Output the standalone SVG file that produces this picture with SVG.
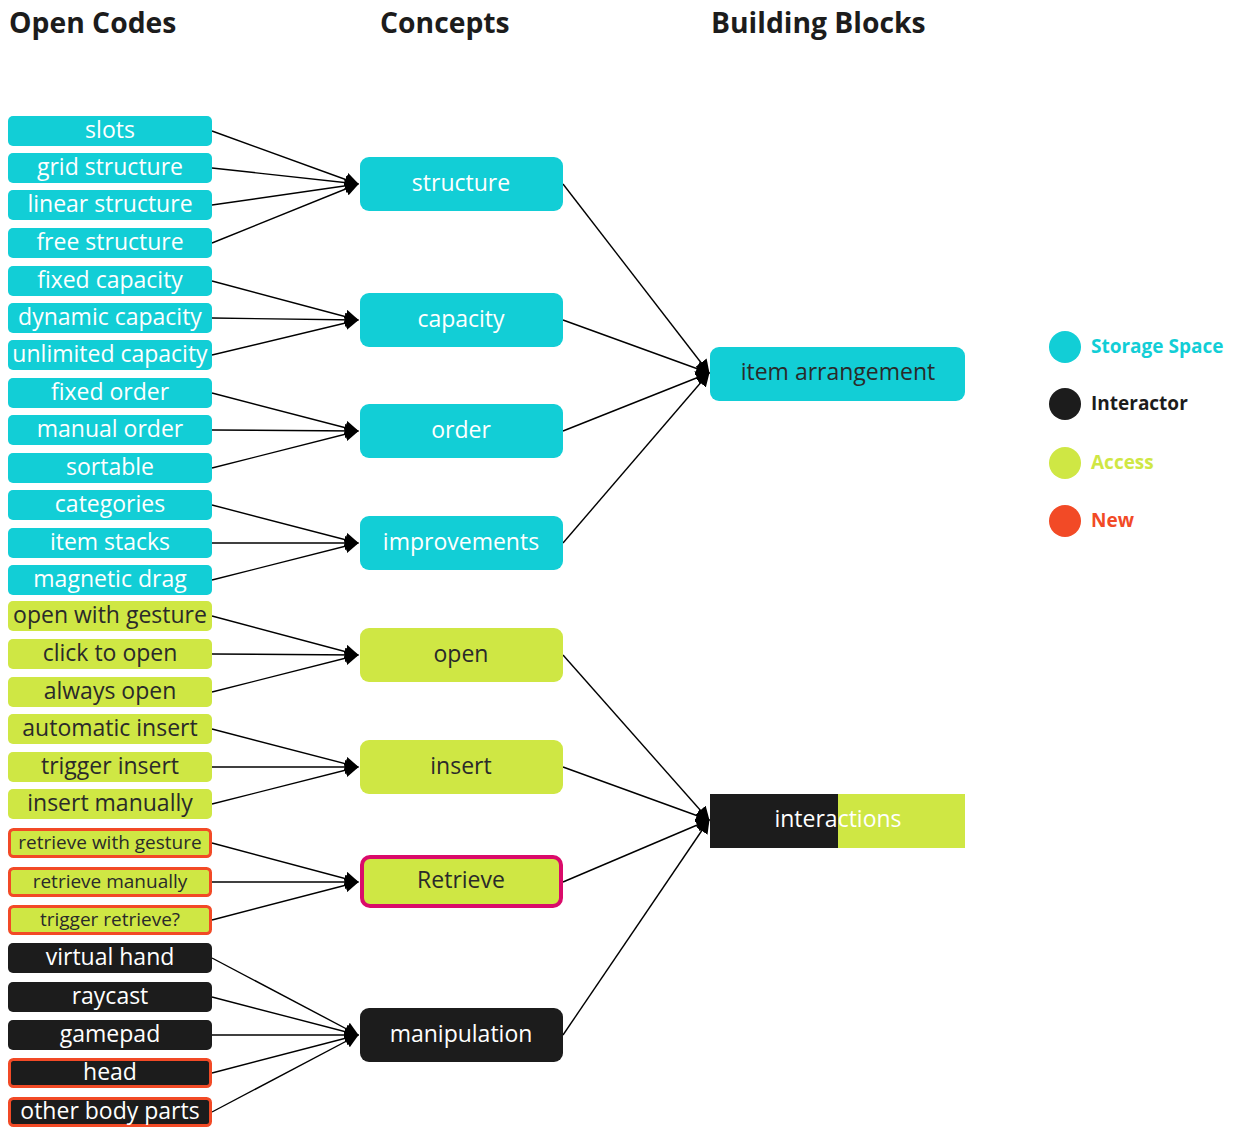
<svg xmlns="http://www.w3.org/2000/svg" width="1234" height="1127" viewBox="0 0 1234 1127">
<defs>
<marker id="ah" markerUnits="userSpaceOnUse" markerWidth="14" markerHeight="14" refX="13" refY="7" orient="auto"><path d="M0,0 L14,7 L0,14 z" fill="#000"/></marker>
<style>
.h{font-family:"Open Sans","Liberation Sans",sans-serif;font-weight:700;font-size:28.3px;fill:#1c1c1c}
.t{font-family:"Open Sans","Liberation Sans",sans-serif;font-size:23px;text-anchor:middle;dominant-baseline:central}
.s{font-size:19px}
.w{fill:#fff}
.d{fill:#2a2a2a}
.cy{fill:#12ced6}
.gr{fill:#cfe744}
.bk{fill:#1c1c1c}
.new{stroke:#f24a26;stroke-width:3}
.c line{stroke:#000;stroke-width:1.4;marker-end:url(#ah)}
.lg{font-family:"Open Sans","Liberation Sans",sans-serif;font-weight:700;font-size:19px;dominant-baseline:central}
</style>
</defs>
<rect width="1234" height="1127" fill="#fff"/>
<text class="h" x="9" y="33">Open Codes</text>
<text class="h" x="380" y="33">Concepts</text>
<text class="h" x="711" y="33">Building Blocks</text>

<g class="c">
<line x1="212" y1="131" x2="358" y2="184"/>
<line x1="212" y1="168" x2="358" y2="184"/>
<line x1="212" y1="205" x2="358" y2="184"/>
<line x1="212" y1="243" x2="358" y2="184"/>
<line x1="212" y1="281" x2="358" y2="320"/>
<line x1="212" y1="318" x2="358" y2="320"/>
<line x1="212" y1="355" x2="358" y2="320"/>
<line x1="212" y1="393" x2="358" y2="431"/>
<line x1="212" y1="430" x2="358" y2="431"/>
<line x1="212" y1="468" x2="358" y2="431"/>
<line x1="212" y1="505" x2="358" y2="543"/>
<line x1="212" y1="543" x2="358" y2="543"/>
<line x1="212" y1="580" x2="358" y2="543"/>
<line x1="212" y1="616" x2="358" y2="655"/>
<line x1="212" y1="654" x2="358" y2="655"/>
<line x1="212" y1="692" x2="358" y2="655"/>
<line x1="212" y1="729" x2="358" y2="767"/>
<line x1="212" y1="767" x2="358" y2="767"/>
<line x1="212" y1="804" x2="358" y2="767"/>
<line x1="212" y1="843" x2="358" y2="882"/>
<line x1="212" y1="882" x2="358" y2="882"/>
<line x1="212" y1="920" x2="358" y2="882"/>
<line x1="212" y1="958" x2="358" y2="1035"/>
<line x1="212" y1="997" x2="358" y2="1035"/>
<line x1="212" y1="1035" x2="358" y2="1035"/>
<line x1="212" y1="1073" x2="358" y2="1035"/>
<line x1="212" y1="1112" x2="358" y2="1035"/>
<line x1="563" y1="184" x2="709" y2="373"/>
<line x1="563" y1="320" x2="709" y2="373"/>
<line x1="563" y1="431" x2="709" y2="373"/>
<line x1="563" y1="543" x2="709" y2="373"/>
<line x1="563" y1="655" x2="709" y2="820"/>
<line x1="563" y1="767" x2="709" y2="820"/>
<line x1="563" y1="882" x2="709" y2="820"/>
<line x1="563" y1="1035" x2="709" y2="820"/>
</g>

<g id="slots"><rect class="cy" x="8" y="116" width="204" height="30" rx="5"/><text class="t w" x="110" y="129">slots</text></g>
<g id="grid-structure"><rect class="cy" x="8" y="153" width="204" height="30" rx="5"/><text class="t w" x="110" y="166">grid structure</text></g>
<g id="linear-structure"><rect class="cy" x="8" y="190" width="204" height="30" rx="5"/><text class="t w" x="110" y="203">linear structure</text></g>
<g id="free-structure"><rect class="cy" x="8" y="228" width="204" height="30" rx="5"/><text class="t w" x="110" y="241">free structure</text></g>
<g id="fixed-capacity"><rect class="cy" x="8" y="266" width="204" height="30" rx="5"/><text class="t w" x="110" y="279">fixed capacity</text></g>
<g id="dynamic-capacity"><rect class="cy" x="8" y="303" width="204" height="30" rx="5"/><text class="t w" x="110" y="316">dynamic capacity</text></g>
<g id="unlimited-capacity"><rect class="cy" x="8" y="340" width="204" height="30" rx="5"/><text class="t w" x="110" y="353">unlimited capacity</text></g>
<g id="fixed-order"><rect class="cy" x="8" y="378" width="204" height="30" rx="5"/><text class="t w" x="110" y="391">fixed order</text></g>
<g id="manual-order"><rect class="cy" x="8" y="415" width="204" height="30" rx="5"/><text class="t w" x="110" y="428">manual order</text></g>
<g id="sortable"><rect class="cy" x="8" y="453" width="204" height="30" rx="5"/><text class="t w" x="110" y="466">sortable</text></g>
<g id="categories"><rect class="cy" x="8" y="490" width="204" height="30" rx="5"/><text class="t w" x="110" y="503">categories</text></g>
<g id="item-stacks"><rect class="cy" x="8" y="528" width="204" height="30" rx="5"/><text class="t w" x="110" y="541">item stacks</text></g>
<g id="magnetic-drag"><rect class="cy" x="8" y="565" width="204" height="30" rx="5"/><text class="t w" x="110" y="578">magnetic drag</text></g>
<g id="open-with-gesture"><rect class="gr" x="8" y="601" width="204" height="30" rx="5"/><text class="t d" x="110" y="614">open with gesture</text></g>
<g id="click-to-open"><rect class="gr" x="8" y="639" width="204" height="30" rx="5"/><text class="t d" x="110" y="652">click to open</text></g>
<g id="always-open"><rect class="gr" x="8" y="677" width="204" height="30" rx="5"/><text class="t d" x="110" y="690">always open</text></g>
<g id="automatic-insert"><rect class="gr" x="8" y="714" width="204" height="30" rx="5"/><text class="t d" x="110" y="727">automatic insert</text></g>
<g id="trigger-insert"><rect class="gr" x="8" y="752" width="204" height="30" rx="5"/><text class="t d" x="110" y="765">trigger insert</text></g>
<g id="insert-manually"><rect class="gr" x="8" y="789" width="204" height="30" rx="5"/><text class="t d" x="110" y="802">insert manually</text></g>
<g id="retrieve-with-gesture"><rect class="gr new" x="9.5" y="829.5" width="201" height="27" rx="4"/><text class="t d s" x="110" y="841.5">retrieve with gesture</text></g>
<g id="retrieve-manually"><rect class="gr new" x="9.5" y="868.5" width="201" height="27" rx="4"/><text class="t d s" x="110" y="880.5">retrieve manually</text></g>
<g id="trigger-retrieve"><rect class="gr new" x="9.5" y="906.5" width="201" height="27" rx="4"/><text class="t d s" x="110" y="918.5">trigger retrieve?</text></g>
<g id="virtual-hand"><rect class="bk" x="8" y="943" width="204" height="30" rx="5"/><text class="t w" x="110" y="956">virtual hand</text></g>
<g id="raycast"><rect class="bk" x="8" y="982" width="204" height="30" rx="5"/><text class="t w" x="110" y="995">raycast</text></g>
<g id="gamepad"><rect class="bk" x="8" y="1020" width="204" height="30" rx="5"/><text class="t w" x="110" y="1033">gamepad</text></g>
<g id="head"><rect class="bk new" x="9.5" y="1059.5" width="201" height="27" rx="4"/><text class="t w" x="110" y="1071">head</text></g>
<g id="other-body-parts"><rect class="bk new" x="9.5" y="1098.5" width="201" height="27" rx="4"/><text class="t w" x="110" y="1110">other body parts</text></g>

<g id="structure"><rect class="cy" x="360" y="157" width="203" height="54" rx="9"/><text class="t w" x="461" y="182">structure</text></g>
<g id="capacity"><rect class="cy" x="360" y="293" width="203" height="54" rx="9"/><text class="t w" x="461" y="318">capacity</text></g>
<g id="order"><rect class="cy" x="360" y="404" width="203" height="54" rx="9"/><text class="t w" x="461" y="429">order</text></g>
<g id="improvements"><rect class="cy" x="360" y="516" width="203" height="54" rx="9"/><text class="t w" x="461" y="541">improvements</text></g>
<g id="open"><rect class="gr" x="360" y="628" width="203" height="54" rx="9"/><text class="t d" x="461" y="653">open</text></g>
<g id="insert"><rect class="gr" x="360" y="740" width="203" height="54" rx="9"/><text class="t d" x="461" y="765">insert</text></g>
<g id="retrieve"><rect class="gr" x="362" y="857" width="199" height="49" rx="8" stroke="#da0b6a" stroke-width="4"/><text class="t d" x="461" y="879">Retrieve</text></g>
<g id="manipulation"><rect class="bk" x="360" y="1008" width="203" height="54" rx="9"/><text class="t w" x="461" y="1033">manipulation</text></g>

<g id="item-arrangement"><rect class="cy" x="710" y="347" width="255" height="54" rx="9"/><text class="t d" x="838" y="371">item arrangement</text></g>
<g id="interactions"><rect class="bk" x="710" y="794" width="128" height="54"/><rect class="gr" x="838" y="794" width="127" height="54"/><text class="t w" x="838" y="818">interactions</text></g>

<g id="legend">
<circle cx="1065" cy="347" r="16" fill="#12ced6"/><text class="lg" x="1091" y="346" fill="#12ced6">Storage Space</text>
<circle cx="1065" cy="404" r="16" fill="#1c1c1c"/><text class="lg" x="1091" y="403" fill="#1c1c1c">Interactor</text>
<circle cx="1065" cy="463" r="16" fill="#cfe744"/><text class="lg" x="1091" y="462" fill="#cfe744">Access</text>
<circle cx="1065" cy="521" r="16" fill="#f24a26"/><text class="lg" x="1091" y="520" fill="#f24a26">New</text>
</g>
</svg>
